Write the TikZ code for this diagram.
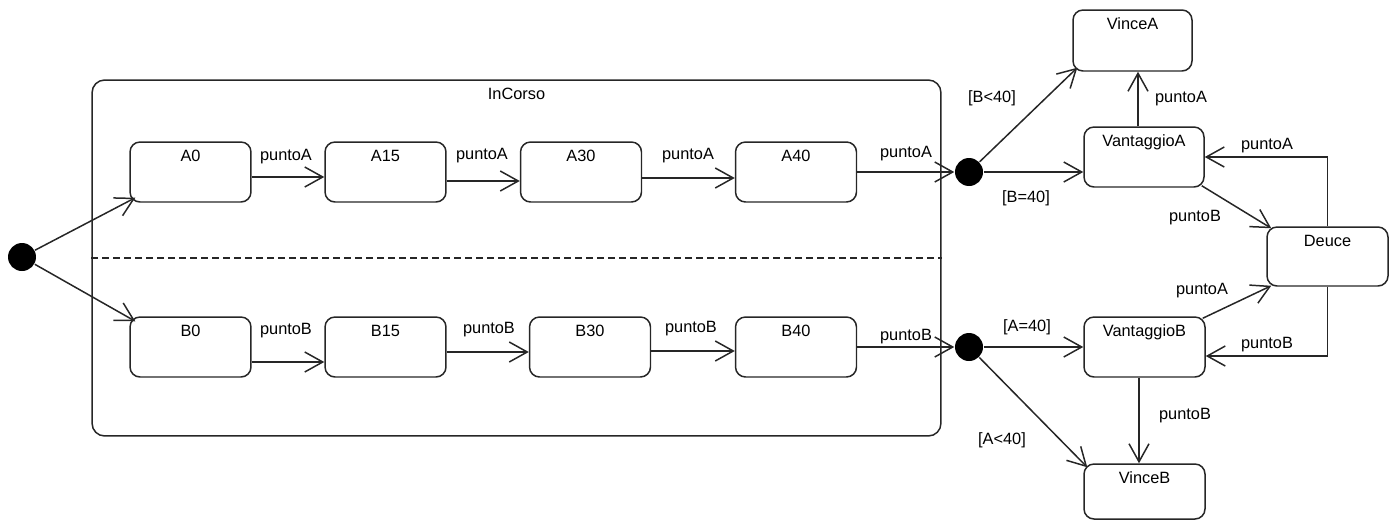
\documentclass[tikz,border=0pt]{standalone}
\usepackage{fontspec}
\setmainfont{Liberation Sans}
\usetikzlibrary{arrows.meta,calc}
\begin{document}
\begin{tikzpicture}[x=0.02cm,y=-0.02cm,
  font=\fontsize{9.3}{11}\selectfont,
  line width=0.85pt, draw=black!85,
  lbl/.style={anchor=north, inner sep=0pt, yshift=-0.16cm},
  st/.style={draw, rounded corners=0.2cm, minimum width=2.42cm, minimum height=1.2cm, inner sep=0pt, label={[lbl]north:#1}},
  tr/.style={-{Straight Barb[length=0.36cm,width=0.4cm]}},
  dot/.style={circle, fill=black, draw=none, inner sep=0pt, minimum size=0.56cm},
  el/.style={inner sep=1pt}]
\useasboundingbox (0,0) rectangle (1395,521);

% container
\node[draw, rounded corners=0.25cm, minimum width=16.98cm, minimum height=7.12cm, inner sep=0pt,
      label={[lbl]north:InCorso}] (incorso) at (516.5,258) {};
\draw[dashed, dash pattern=on 0.14cm off 0.08cm] (incorso.west) -- (incorso.east);

% initial and choice dots
\node[dot] (init) at (22,257) {};
\node[dot] (dA) at (969,172) {};
\node[dot] (dB) at (969,347) {};

% states
\node[st=A0]  (A0)  at (190.5,172) {};
\node[st=A15] (A15) at (385.5,172) {};
\node[st=A30] (A30) at (581,172) {};
\node[st=A40] (A40) at (796,172) {};
\node[st=B0]  (B0)  at (190.5,347) {};
\node[st=B15] (B15) at (385.5,347) {};
\node[st=B30] (B30) at (590,347) {};
\node[st=B40] (B40) at (796,347) {};

\node[st=VinceA, minimum width=2.38cm, minimum height=1.22cm] (VinceA) at (1132.5,40.5) {};
\node[st=VantaggioA, minimum width=2.4cm] (VantaggioA) at (1144,157) {};
\node[st=Deuce, minimum height=1.18cm] (Deuce) at (1327.5,256.5) {};
\node[st=VantaggioB] (VantaggioB) at (1144.5,347) {};
\node[st=VinceB, minimum height=1.1cm] (VinceB) at (1144.5,491.5) {};

% initial transitions
\draw[tr] (init) -- ($(A0.south west)+(6,-5)$);
\draw[tr] (init) -- ($(B0.north west)+(6,5)$);

% A row
\draw[tr] ($(A0.east)+(0,5)$) -- ($(A15.west)+(0,5)$);
\draw[tr] ($(A15.east)+(0,9)$) -- ($(A30.west)+(0,9)$);
\draw[tr] ($(A30.east)+(0,6)$) -- ($(A40.west)+(0,6)$);
\draw[tr] (A40.east) -- (dA);
\node[el] (lA1) at (286,157) {puntoA};
\node[el] (lA2) at (482,156) {puntoA};
\node[el] (lA3) at (688,156) {puntoA};
\node[el] (lA4) at (906,154) {puntoA};

% B row
\draw[tr] ($(B0.east)+(0,15)$) -- ($(B15.west)+(0,15)$);
\draw[tr] ($(B15.east)+(0,5)$) -- ($(B30.west)+(0,5)$);
\draw[tr] ($(B30.east)+(0,4)$) -- ($(B40.west)+(0,4)$);
\draw[tr] (B40.east) -- (dB);
\node[el] (lB1) at (286,331) {puntoB};
\node[el] (lB2) at (489,330) {puntoB};
\node[el] (lB3) at (691,329) {puntoB};
\node[el] (lB4) at (906,337) {puntoB};

% right part, A side
\draw[tr] (dA) -- ($(VinceA.south west)+(5,-4)$);
\node[el] (gBlt) at (992,98) {[B<40]};
\draw[tr] (dA) -- (dA -| VantaggioA.west);
\node[el] (gBeq) at (1026,198) {[B=40]};
\coordinate (vaT) at ($(VantaggioA.north)+(-6,0)$);
\draw[tr] (vaT) -- (vaT |- VinceA.south);
\node[el] (lVA) at (1181,99) {puntoA};
\draw[tr] (Deuce.north) |- (VantaggioA.east);
\node[el] (lDA) at (1267,146) {puntoA};
\draw[tr] ($(VantaggioA.south east)+(-3,-2)$) -- ($(Deuce.north west)+(5,2)$);
\node[el] (lAD) at (1195,218) {puntoB};

% right part, B side
\draw[tr] ($(VantaggioB.north east)+(-3,2)$) -- ($(Deuce.south west)+(5,-1)$);
\node[el] (lBD) at (1202,291) {puntoA};
\coordinate (vbE) at ($(VantaggioB.east)+(0,9)$);
\draw[tr] (Deuce.south) |- (vbE);
\node[el] (lDB) at (1267,345) {puntoB};
\draw[tr] (dB) -- (dB -| VantaggioB.west);
\node[el] (gAeq) at (1027,327) {[A=40]};
\draw[tr] (dB) -- ($(VinceB.north west)+(4,4)$);
\node[el] (gAlt) at (1002,440) {[A<40]};
\coordinate (vbS) at ($(VantaggioB.south)+(-5.5,0)$);
\draw[tr] (vbS) -- (vbS |- VinceB.north);
\node[el] (lVB) at (1185,416) {puntoB};
\end{tikzpicture}
\end{document}
